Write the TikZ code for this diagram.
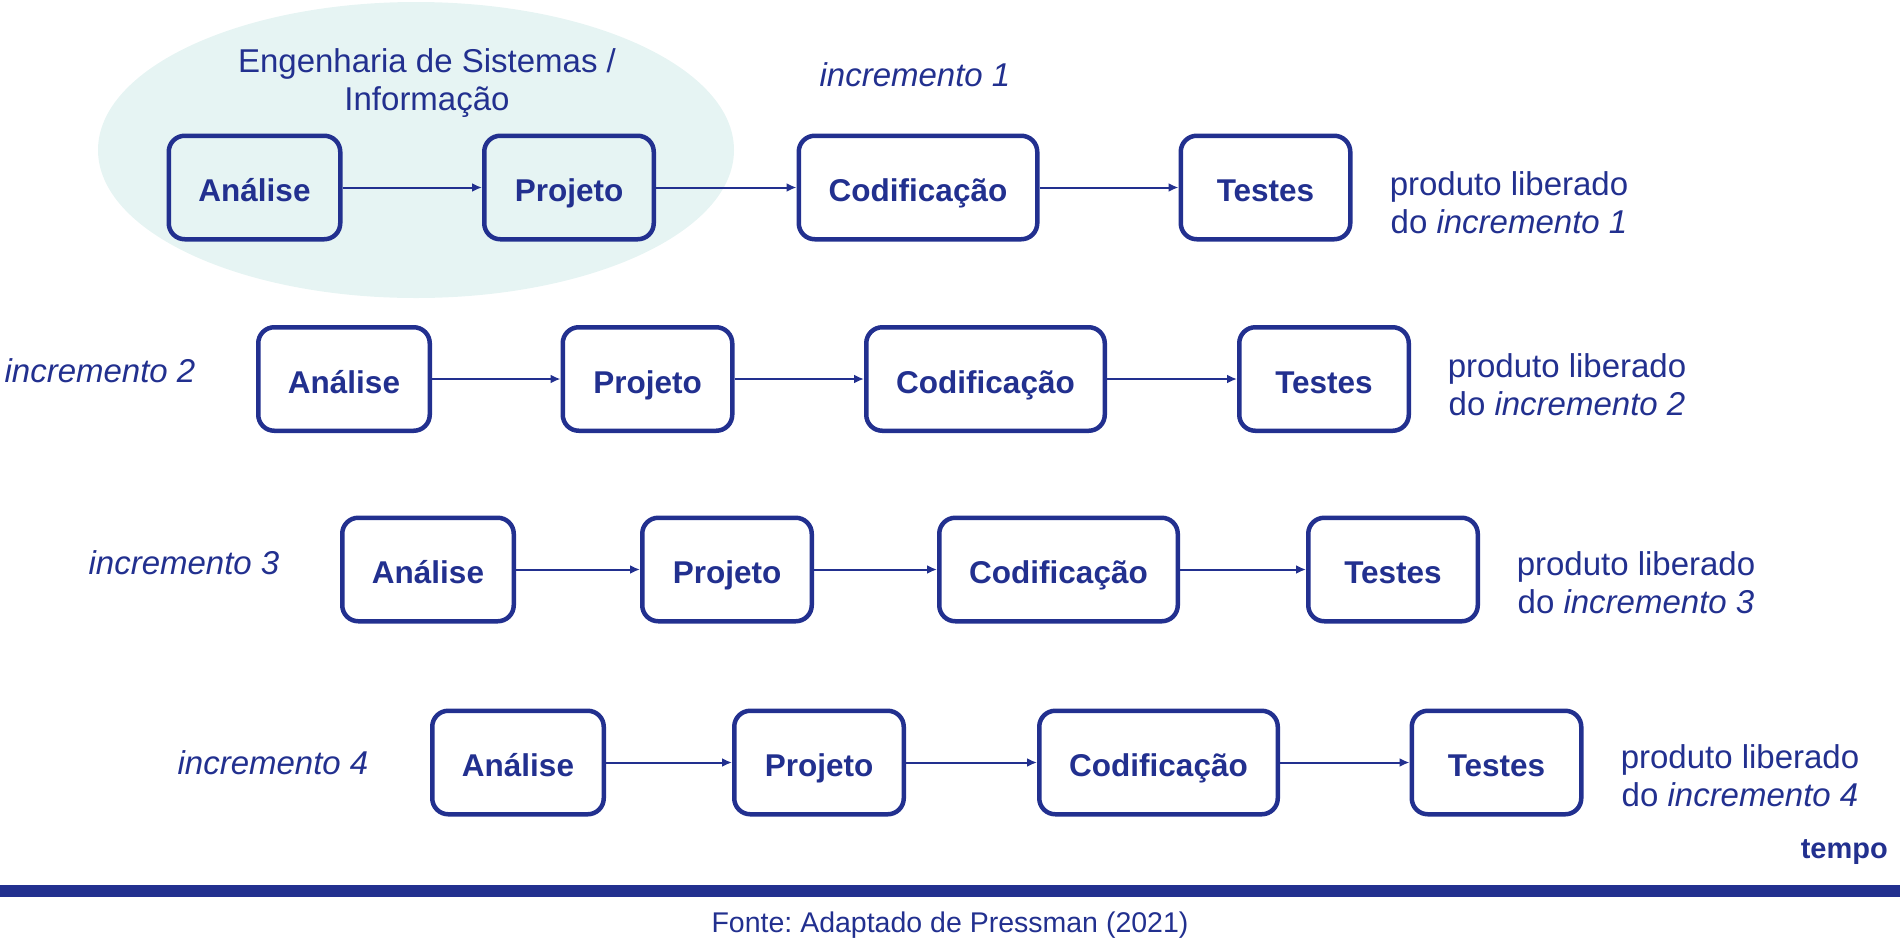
\documentclass[tikz,border=0pt]{standalone}
\usepackage{fontspec}
\setmainfont{Liberation Sans}
\usetikzlibrary{arrows.meta}
\definecolor{azul}{HTML}{22308F}
\definecolor{teal}{HTML}{E6F4F3}
\frenchspacing
\tikzset{
  stage/.style={draw=azul, line width=4.5pt, rounded corners=16pt, minimum height=103.5pt,
    inner sep=0pt, text=azul, font=\fontsize{31.5}{38}\selectfont\bfseries,
    text height=28pt, text depth=0pt},
  wA/.style={minimum width=171.5pt},
  wP/.style={minimum width=169.5pt},
  wC/.style={minimum width=238.5pt},
  wT/.style={minimum width=169.5pt},
  flow/.style={draw=azul, line width=2pt, -{Latex[length=10pt,width=9pt]}},
  lbl/.style={text=azul, inner sep=0pt, anchor=base, font=\fontsize{33}{38}\selectfont},
  inc/.style={lbl, font=\fontsize{33}{38}\selectfont\itshape},
  prod/.style={lbl, align=center},
}
\begin{document}
\begin{tikzpicture}[x=1pt,y=-1pt]
\useasboundingbox (0,0) rectangle (1900,938);
% ellipse
\fill[teal] (416,150) ellipse [x radius=318, y radius=148];
\node[lbl, align=center] (eng) at (427,110) {Engenharia de Sistemas /\\Informação};
% row 1
\node[inc] (i1) at (915,86) {incremento 1};
\node[stage,wA] (a1) at (254.5,187.5) {Análise};
\node[stage,wP] (p1) at (569,187.5) {Projeto};
\node[stage,wC] (c1) at (918,187.5) {Codificação};
\node[stage,wT] (t1) at (1265.5,187.5) {Testes};
\node[prod] (r1) at (1509,233) {produto liberado\\do \textit{incremento 1}};
% row 2
\node[inc] (i2) at (100,382) {incremento 2};
\node[stage,wA] (a2) at (344,379) {Análise};
\node[stage,wP] (p2) at (647.5,379) {Projeto};
\node[stage,wC] (c2) at (985.5,379) {Codificação};
\node[stage,wT] (t2) at (1324,379) {Testes};
\node[prod] (r2) at (1567,415) {produto liberado\\do \textit{incremento 2}};
% row 3
\node[inc] (i3) at (184,574) {incremento 3};
\node[stage,wA] (a3) at (428,569.5) {Análise};
\node[stage,wP] (p3) at (727,569.5) {Projeto};
\node[stage,wC] (c3) at (1058.5,569.5) {Codificação};
\node[stage,wT] (t3) at (1393,569.5) {Testes};
\node[prod] (r3) at (1636,613) {produto liberado\\do \textit{incremento 3}};
% row 4
\node[inc] (i4) at (273,774) {incremento 4};
\node[stage,wA] (a4) at (518,762.5) {Análise};
\node[stage,wP] (p4) at (819,762.5) {Projeto};
\node[stage,wC] (c4) at (1158.5,762.5) {Codificação};
\node[stage,wT] (t4) at (1496.5,762.5) {Testes};
\node[prod] (r4) at (1740,806) {produto liberado\\do \textit{incremento 4}};
% arrows
\foreach \r in {1,2,3,4}{
  \draw[flow] (a\r) -- (p\r);
  \draw[flow] (p\r) -- (c\r);
  \draw[flow] (c\r) -- (t\r);
}
% time axis
\node[text=azul, inner sep=0pt, anchor=base east, font=\fontsize{29}{34}\selectfont\bfseries] (tempo) at (1888,858) {tempo};
\fill[azul] (0,885) rectangle (1900,897);
\node[text=azul, inner sep=0pt, anchor=base, font=\fontsize{28.5}{34}\selectfont] (fonte) at (950,932) {Fonte: Adaptado de Pressman (2021)};
\end{tikzpicture}
\end{document}
